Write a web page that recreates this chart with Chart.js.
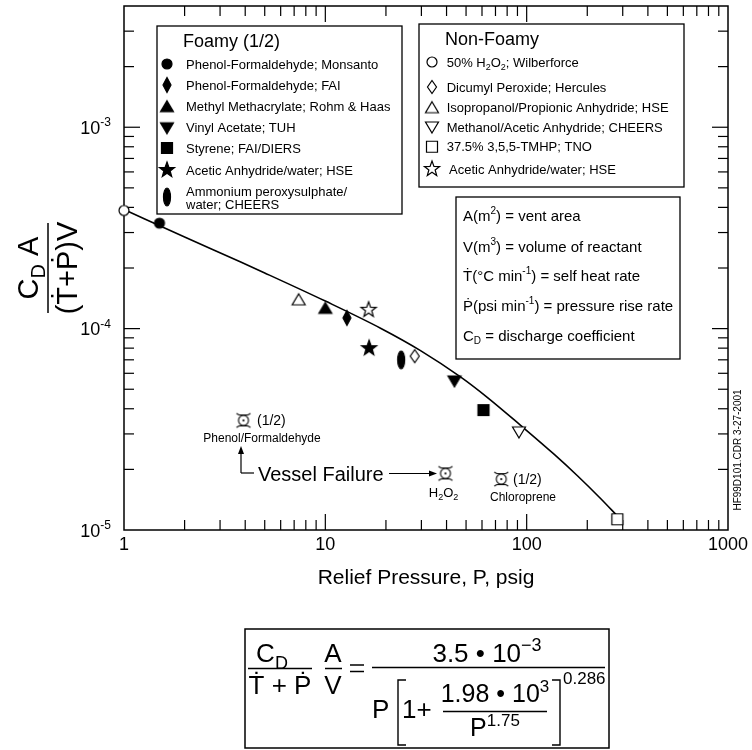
<!DOCTYPE html>
<html>
<head>
<meta charset="utf-8">
<script src="https://cdn.jsdelivr.net/npm/chart.js@4.4.1/dist/chart.umd.min.js"></script>
<style>
  html, body { margin: 0; padding: 0; background: #fff; }
  canvas { display: block; }
</style>
</head>
<body>
<canvas id="chart" width="752" height="750"></canvas>
<script>
// --- Data ---
const curveP = [1, 2, 3.8, 5, 10, 18.8, 29.7, 46.9, 63.7, 93.3, 136.7, 178.7, 233.5, 283];
const curveY = [3.9e-4, 2.85e-4, 2.14e-4, 1.89e-4, 1.37e-4, 1.005e-4, 7.78e-5, 5.76e-5, 4.56e-5, 3.31e-5, 2.38e-5, 1.86e-5, 1.43e-5, 1.17e-5];

const foamyNames = ['Phenol-Formaldehyde; Monsanto', 'Phenol-Formaldehyde; FAI', 'Methyl Methacrylate; Rohm & Haas',
  'Vinyl Acetate; TUH', 'Styrene; FAI/DIERS', 'Acetic Anhydride/water; HSE', 'Ammonium peroxysulphate/\nwater; CHEERS'];
const foamyP = [1.5, 12.8, 10, 43.8, 61, 16.5, 23.8];
const foamyY = [3.34e-4, 1.13e-4, 1.26e-4, 5.5e-5, 3.94e-5, 8.0e-5, 7.0e-5];
const foamyMarks = ['circle', 'diamond', 'triangle', 'triangleDown', 'square', 'star', 'ellipse'];

const nonFoamyNames = ['50% H_{2}O_{2}; Wilberforce', 'Dicumyl Peroxide; Hercules', 'Isopropanol/Propionic Anhydride; HSE',
  'Methanol/Acetic Anhydride; CHEERS', '37.5% 3,5,5-TMHP; TNO', 'Acetic Anhydride/water; HSE'];
const nonFoamyP = [1, 27.8, 7.37, 91.6, 282, 16.4];
const nonFoamyY = [3.86e-4, 7.3e-5, 1.39e-4, 3.07e-5, 1.13e-5, 1.24e-4];
const nonFoamyMarks = ['circle', 'diamond', 'triangle', 'triangleDown', 'square', 'star'];

const failureP = [3.92, 39.5, 74.8];
const failureY = [3.5e-5, 1.91e-5, 1.79e-5];

const xTickValues = [1, 10, 100, 1000];
const xTickLabels = ['1', '10', '100', '1000'];
const yTickValues = [1e-5, 1e-4, 1e-3];
const yTickLabels = ['10^{-5}', '10^{-4}', '10^{-3}'];

const definitions = ['A(m^{2}) = vent area', 'V(m^{3}) = volume of reactant', 'Ṫ(°C min^{-1}) = self heat rate',
  'Ṗ(psi min^{-1}) = pressure rise rate', 'C_{D} = discharge coefficient'];

const FONT = '"Liberation Sans", Arial, sans-serif';

// --- Marker images ---
function makeMarker(kind, filled) {
  const c = document.createElement('canvas');
  c.width = 20; c.height = 20;
  const g = c.getContext('2d');
  g.translate(10, 10);
  g.lineWidth = 1.2;
  g.strokeStyle = '#000';
  g.fillStyle = filled ? '#000' : '#fff';
  g.beginPath();
  switch (kind) {
    case 'circle': g.arc(0, 0, 5, 0, Math.PI * 2); break;
    case 'diamond':
      if (filled) { g.moveTo(0, -7.5); g.lineTo(4, 0); g.lineTo(0, 7.5); g.lineTo(-4, 0); }
      else { g.moveTo(0, -6.5); g.lineTo(4.5, 0); g.lineTo(0, 6.5); g.lineTo(-4.5, 0); }
      g.closePath(); break;
    case 'triangle': g.moveTo(0, -6); g.lineTo(6.5, 5); g.lineTo(-6.5, 5); g.closePath(); break;
    case 'triangleDown': g.moveTo(0, 6); g.lineTo(6.5, -5); g.lineTo(-6.5, -5); g.closePath(); break;
    case 'square': g.rect(-5.5, -5.5, 11, 11); break;
    case 'star':
      for (let i = 0; i < 10; i++) {
        const r = i % 2 ? 3.3 : 8;
        const a = -Math.PI / 2 + i * Math.PI / 5;
        if (i === 0) g.moveTo(r * Math.cos(a), r * Math.sin(a));
        else g.lineTo(r * Math.cos(a), r * Math.sin(a));
      }
      g.closePath(); break;
    case 'ellipse': g.ellipse(0, 0, 3.5, 9, 0, 0, Math.PI * 2); break;
  }
  g.fill();
  g.stroke();
  return c;
}

function makeFailureMark() {
  const c = document.createElement('canvas');
  c.width = 20; c.height = 20;
  const g = c.getContext('2d');
  g.translate(10, 10);
  g.lineWidth = 1.1;
  g.strokeStyle = '#000';
  g.fillStyle = '#000';
  g.beginPath(); g.arc(0, 0, 5, 0, Math.PI * 2); g.stroke();
  g.beginPath(); g.arc(0, 0, 1.1, 0, Math.PI * 2); g.fill();
  g.beginPath();
  g.moveTo(-7, -7); g.lineTo(-4.5, -5.5); g.lineTo(4.5, -5.5); g.lineTo(7, -7);
  g.moveTo(-7, 7); g.lineTo(-4.5, 5.5); g.lineTo(4.5, 5.5); g.lineTo(7, 7);
  g.stroke();
  return c;
}

const foamyImgs = foamyMarks.map(k => makeMarker(k, true));
const nonFoamyImgs = nonFoamyMarks.map(k => makeMarker(k, false));
const failureImg = makeFailureMark();

// --- Rich text helper: _{sub} and ^{sup} ---
function drawRich(ctx, str, x, y, size, align) {
  const parts = [];
  str.split(/(_\{[^}]*\}|\^\{[^}]*\})/).forEach(s => {
    if (!s) return;
    if (s.startsWith('_{')) parts.push({ t: s.slice(2, -1), k: 'sub' });
    else if (s.startsWith('^{')) parts.push({ t: s.slice(2, -1), k: 'sup' });
    else parts.push({ t: s, k: 'n' });
  });
  const small = Math.round(size * 0.68);
  let w = 0;
  parts.forEach(p => {
    ctx.font = (p.k === 'n' ? size : small) + 'px ' + FONT;
    p.w = ctx.measureText(p.t).width;
    w += p.w;
  });
  let cx = align === 'center' ? x - w / 2 : align === 'right' ? x - w : x;
  ctx.textAlign = 'left';
  ctx.textBaseline = 'alphabetic';
  parts.forEach(p => {
    ctx.font = (p.k === 'n' ? size : small) + 'px ' + FONT;
    const dy = p.k === 'sub' ? size * 0.25 : p.k === 'sup' ? -size * 0.42 : 0;
    ctx.fillText(p.t, cx, y + dy);
    cx += p.w;
  });
  return w;
}

function line(ctx, x1, y1, x2, y2) {
  ctx.beginPath(); ctx.moveTo(x1, y1); ctx.lineTo(x2, y2); ctx.stroke();
}

function arrowHead(ctx, x, y, dir) {
  ctx.beginPath();
  if (dir === 'up') { ctx.moveTo(x, y); ctx.lineTo(x - 3, y + 8); ctx.lineTo(x + 3, y + 8); }
  else { ctx.moveTo(x, y); ctx.lineTo(x - 8, y - 3); ctx.lineTo(x - 8, y + 3); }
  ctx.closePath(); ctx.fill();
}

// --- Axes frame with inward ticks ---
const framePlugin = {
  id: 'frame',
  beforeDatasetsDraw(chart) {
    const { ctx, chartArea: a, scales: { x, y } } = chart;
    ctx.save();
    ctx.strokeStyle = '#000';
    ctx.lineWidth = 1.5;
    ctx.strokeRect(a.left, a.top, a.right - a.left, a.bottom - a.top);
    ctx.lineWidth = 1.2;
    for (let d = 1; d <= 100; d *= 10) {
      for (let m = 1; m <= 9; m++) {
        const px = x.getPixelForValue(d * m);
        const len = m === 1 ? 16 : 10;
        if (m === 1 && d === 1) continue;
        line(ctx, px, a.bottom, px, a.bottom - len);
        line(ctx, px, a.top, px, a.top + len);
      }
    }
    for (let d = 1e-5; d <= 1e-3 * 1.01; d *= 10) {
      for (let m = 1; m <= 9; m++) {
        const v = d * m;
        if (v >= y.max * 0.99) continue;
        if (m === 1 && d < 2e-5) continue;
        const py = y.getPixelForValue(v);
        const len = m === 1 ? 16 : 10;
        line(ctx, a.left, py, a.left + len, py);
        line(ctx, a.right, py, a.right - len, py);
      }
    }
    ctx.restore();
  },
  afterDraw(chart) {
    const { ctx, scales: { x, y } } = chart;
    ctx.save();
    ctx.fillStyle = '#000';
    ctx.strokeStyle = '#000';

    // tick labels
    xTickValues.forEach((v, i) => drawRich(ctx, xTickLabels[i], x.getPixelForValue(v), 549.5, 18, 'center'));
    yTickValues.forEach((v, i) => drawRich(ctx, yTickLabels[i], 111, y.getPixelForValue(v) + 6.5, 18, 'right'));

    // axis titles
    drawRich(ctx, 'Relief Pressure, P, psig', 426, 584, 21, 'center');
    ctx.save();
    ctx.translate(48, 268);
    ctx.rotate(-Math.PI / 2);
    drawRich(ctx, 'C_{D} A', 0, -10, 29, 'center');
    drawRich(ctx, '(Ṫ+Ṗ)V', 0, 29, 29, 'center');
    ctx.lineWidth = 1.5;
    line(ctx, -45, 0, 45, 0);
    ctx.restore();

    // watermark
    ctx.save();
    ctx.translate(741, 450);
    ctx.rotate(-Math.PI / 2);
    drawRich(ctx, 'HF99D101.CDR 3-27-2001', 0, 0, 10, 'center');
    ctx.restore();

    // legend boxes
    ctx.lineWidth = 1.3;
    ctx.fillStyle = '#fff';
    [[157, 26, 245, 188], [419, 24, 265, 163], [456, 197, 224, 162]].forEach(r => {
      ctx.fillRect(...r); ctx.strokeRect(...r);
    });
    ctx.fillStyle = '#000';

    drawRich(ctx, 'Foamy (1/2)', 183, 46.5, 18, 'left');
    const fy = [64, 85, 106.7, 127.7, 148, 170, 197];
    foamyNames.forEach((name, i) => {
      ctx.drawImage(foamyImgs[i], 167 - 10, fy[i] - 10);
      const lines = name.split('\n');
      if (lines.length > 1) {
        drawRich(ctx, lines[0], 186, 196, 13, 'left');
        drawRich(ctx, lines[1], 186, 209, 13, 'left');
      } else {
        drawRich(ctx, name, 186, fy[i] + 4.7, 13, 'left');
      }
    });

    drawRich(ctx, 'Non-Foamy', 445, 45, 18, 'left');
    const ny = [62, 87, 107.7, 127, 146.7, 169];
    nonFoamyNames.forEach((name, i) => {
      ctx.drawImage(nonFoamyImgs[i], 432 - 10, ny[i] - 10);
      drawRich(ctx, name, i === 5 ? 449 : 446.7, ny[i] + 4.7, 13, 'left');
    });

    const dy = [220.5, 251.5, 280.5, 310.5, 340.5];
    definitions.forEach((t, i) => drawRich(ctx, t, 463, dy[i], 15, 'left'));

    // vessel failure annotations
    drawRich(ctx, '(1/2)', 257, 425, 14, 'left');
    drawRich(ctx, 'Phenol/Formaldehyde', 262, 441.5, 12, 'center');
    ctx.lineWidth = 1.2;
    line(ctx, 241, 452, 241, 473);
    line(ctx, 241, 473, 254, 473);
    arrowHead(ctx, 241, 446, 'up');
    drawRich(ctx, 'Vessel Failure', 258, 480.5, 20, 'left');
    line(ctx, 389, 473.5, 430, 473.5);
    arrowHead(ctx, 437, 473.5, 'right');
    drawRich(ctx, 'H_{2}O_{2}', 443.5, 496.5, 13, 'center');
    drawRich(ctx, '(1/2)', 513, 484, 14, 'left');
    drawRich(ctx, 'Chloroprene', 523, 500.5, 12, 'center');

    // formula box
    ctx.lineWidth = 1.5;
    ctx.strokeRect(245, 629, 364, 119);
    drawRich(ctx, 'C_{D}', 272, 662, 26, 'center');
    line(ctx, 248, 668.5, 312, 668.5);
    drawRich(ctx, 'Ṫ + Ṗ', 280, 694, 26, 'center');
    drawRich(ctx, 'A', 333, 662, 26, 'center');
    line(ctx, 325, 668.5, 342, 668.5);
    drawRich(ctx, 'V', 333, 694, 26, 'center');
    line(ctx, 350, 665, 364, 665);
    line(ctx, 350, 671.5, 364, 671.5);
    line(ctx, 372, 667.5, 605, 667.5);
    drawRich(ctx, '3.5 • 10^{−3}', 487, 662, 26, 'center');
    drawRich(ctx, 'P', 372, 718, 26, 'left');
    ctx.lineWidth = 1.4;
    ctx.beginPath();
    ctx.moveTo(406, 680); ctx.lineTo(398, 680); ctx.lineTo(398, 745); ctx.lineTo(406, 745);
    ctx.moveTo(552, 680); ctx.lineTo(560, 680); ctx.lineTo(560, 745); ctx.lineTo(552, 745);
    ctx.stroke();
    drawRich(ctx, '1+', 402, 718, 26, 'left');
    drawRich(ctx, '1.98 • 10^{3}', 495, 702, 25, 'center');
    line(ctx, 443, 711.5, 547, 711.5);
    drawRich(ctx, 'P^{1.75}', 495, 736, 25, 'center');
    drawRich(ctx, '0.286', 563, 684, 17, 'left');

    ctx.restore();
  }
};

// --- Datasets ---
const datasets = [{
  label: 'fit',
  data: curveP.map((p, i) => ({ x: p, y: curveY[i] })),
  showLine: true,
  borderColor: '#000',
  borderWidth: 1.6,
  pointRadius: 0,
  cubicInterpolationMode: 'monotone',
  fill: false,
  clip: false,
  order: 2
}];
foamyNames.forEach((name, i) => datasets.push({
  label: name, data: [{ x: foamyP[i], y: foamyY[i] }], pointStyle: foamyImgs[i], clip: false, order: 1
}));
nonFoamyNames.forEach((name, i) => datasets.push({
  label: name, data: [{ x: nonFoamyP[i], y: nonFoamyY[i] }], pointStyle: nonFoamyImgs[i], clip: false, order: 1
}));
datasets.push({
  label: 'Vessel Failure', data: failureP.map((p, i) => ({ x: p, y: failureY[i] })), pointStyle: failureImg, clip: false, order: 1
});

new Chart(document.getElementById('chart'), {
  type: 'scatter',
  data: { datasets },
  options: {
    responsive: false,
    animation: false,
    layout: { padding: { left: 124, top: 6, right: 24, bottom: 220 } },
    plugins: { legend: { display: false }, tooltip: { enabled: false } },
    scales: {
      x: { type: 'logarithmic', min: 1, max: 1000, display: false },
      y: { type: 'logarithmic', min: 1e-5, max: 4e-3, display: false }
    }
  },
  plugins: [framePlugin]
});
</script>
</body>
</html>
